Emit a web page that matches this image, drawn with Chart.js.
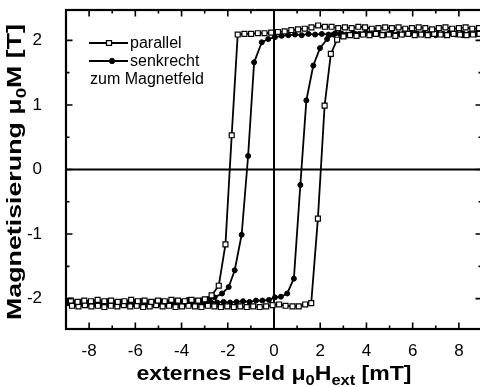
<!DOCTYPE html>
<html>
<head>
<meta charset="utf-8">
<script src="https://cdn.jsdelivr.net/npm/chart.js@4/dist/chart.umd.min.js"></script>
<style>
  html, body { margin: 0; padding: 0; background: #fff; overflow: hidden; }
  #wrap { width: 484px; height: 387px; }
</style>
</head>
<body>
<div id="wrap"><canvas id="loopChart" width="484" height="387"></canvas></div>
<script>
// parallel to the field, sweep from +9 down to -9 mT
const fieldParDown = [8.87, 8.58, 8.29, 8.00, 7.71, 7.42, 7.13, 6.84, 6.55, 6.26, 5.97, 5.68, 5.39, 5.10, 4.81, 4.52, 4.23, 3.94, 3.65, 3.36, 3.07, 2.78, 2.49, 2.20, 1.91, 1.62, 1.33, 1.04, 0.75, 0.46, 0.17, -0.12, -0.41, -0.70, -0.99, -1.28, -1.57,
  -1.83, -2.10, -2.39, -2.70,
  -2.99, -3.28, -3.57, -3.86, -4.15, -4.44, -4.73, -5.02, -5.31, -5.60, -5.89, -6.18, -6.47, -6.76, -7.05, -7.34, -7.63, -7.92, -8.21, -8.50, -8.79];
const magParDown = [2.19, 2.18, 2.20, 2.19, 2.18, 2.20, 2.19, 2.17, 2.19, 2.20, 2.19, 2.18, 2.20, 2.19, 2.20, 2.19, 2.18, 2.20, 2.21, 2.19, 2.20, 2.19, 2.21, 2.21, 2.23, 2.20, 2.18, 2.17, 2.16, 2.14, 2.13, 2.12, 2.11, 2.11, 2.10, 2.10, 2.09,
  0.53, -1.16, -1.80, -1.95,
  -2.01, -2.03, -2.02, -2.04, -2.03, -2.02, -2.04, -2.03, -2.05, -2.03, -2.04, -2.02, -2.04, -2.05, -2.03, -2.04, -2.02, -2.04, -2.03, -2.05, -2.03];

// parallel, sweep from -9 up to +9 mT
const fieldParUp = [-8.74, -8.46, -8.18, -7.90, -7.62, -7.34, -7.06, -6.78, -6.50, -6.22, -5.94, -5.66, -5.38, -5.10, -4.82, -4.54, -4.26, -3.98, -3.70, -3.42, -3.14, -2.86, -2.58, -2.30, -2.02, -1.74, -1.46, -1.18, -0.90, -0.62, -0.34, -0.06,
  0.22, 0.50, 0.80, 1.07, 1.35, 1.61,
  1.90, 2.19, 2.46, 2.73,
  3.01, 3.29, 3.57, 3.85, 4.13, 4.41, 4.69, 4.97, 5.25, 5.53, 5.81, 6.09, 6.37, 6.65, 6.93, 7.21, 7.49, 7.77, 8.05, 8.33, 8.61, 8.89];
const magParUp = [-2.11, -2.12, -2.10, -2.12, -2.11, -2.13, -2.11, -2.12, -2.10, -2.12, -2.11, -2.13, -2.12, -2.10, -2.12, -2.11, -2.13, -2.12, -2.11, -2.12, -2.13, -2.11, -2.12, -2.13, -2.12, -2.13, -2.12, -2.13, -2.12, -2.13, -2.12, -2.10,
  -2.09, -2.11, -2.12, -2.12, -2.09, -2.07,
  -0.76, 0.99, 1.79, 2.01,
  2.06, 2.08, 2.07, 2.09, 2.08, 2.10, 2.08, 2.09, 2.07, 2.09, 2.10, 2.08, 2.09, 2.08, 2.10, 2.09, 2.08, 2.10, 2.09, 2.08, 2.09, 2.10];

// perpendicular to the field, sweep down
const fieldPerpDown = [8.74, 8.45, 8.16, 7.87, 7.58, 7.29, 7.00, 6.71, 6.42, 6.13, 5.84, 5.55, 5.26, 4.97, 4.68, 4.39, 4.10, 3.81, 3.52, 3.23, 2.94, 2.65, 2.36, 2.07, 1.78, 1.49, 1.20, 0.91, 0.62, 0.33, 0.04,
  -0.25, -0.53, -0.86, -1.12, -1.40, -1.70, -1.96, -2.25, -2.57,
  -2.86, -3.15, -3.44, -3.73, -4.02, -4.31, -4.60, -4.89, -5.18, -5.47, -5.76, -6.05, -6.34, -6.63, -6.92, -7.21, -7.50, -7.79, -8.08, -8.37, -8.66, -8.95];
const magPerpDown = [2.09, 2.10, 2.08, 2.09, 2.11, 2.09, 2.08, 2.10, 2.09, 2.11, 2.10, 2.09, 2.08, 2.10, 2.09, 2.11, 2.10, 2.09, 2.10, 2.08, 2.10, 2.11, 2.09, 2.10, 2.09, 2.10, 2.08, 2.09, 2.08, 2.07, 2.05,
  2.02, 1.97, 1.66, 0.21, -1.01, -1.56, -1.82, -1.92, -1.98,
  -2.01, -2.03, -2.04, -2.02, -2.05, -2.04, -2.06, -2.04, -2.05, -2.06, -2.04, -2.05, -2.07, -2.05, -2.06, -2.04, -2.06, -2.05, -2.07, -2.05, -2.06, -2.05];

// perpendicular, sweep up
const fieldPerpUp = [-8.90, -8.62, -8.34, -8.06, -7.78, -7.50, -7.22, -6.94, -6.66, -6.38, -6.10, -5.82, -5.54, -5.26, -4.98, -4.70, -4.42, -4.14, -3.86, -3.58, -3.30, -3.02, -2.74, -2.46, -2.18, -1.90, -1.62, -1.34, -1.06, -0.78, -0.50,
  -0.22, 0.04, 0.30, 0.57, 0.86,
  1.14, 1.40, 1.70, 1.99, 2.30, 2.57,
  2.85, 3.13, 3.41, 3.69, 3.97, 4.25, 4.53, 4.81, 5.09, 5.37, 5.65, 5.93, 6.21, 6.49, 6.77, 7.05, 7.33, 7.61, 7.89, 8.17, 8.45, 8.73];
const magPerpUp = [-2.07, -2.08, -2.06, -2.08, -2.07, -2.09, -2.07, -2.08, -2.06, -2.08, -2.07, -2.09, -2.08, -2.06, -2.08, -2.07, -2.08, -2.06, -2.07, -2.08, -2.06, -2.07, -2.05, -2.06, -2.05, -2.06, -2.05, -2.04, -2.05, -2.03, -2.03,
  -2.02, -1.98, -1.97, -1.92, -1.69,
  -0.24, 1.07, 1.61, 1.88, 2.02, 2.09,
  2.10, 2.09, 2.11, 2.10, 2.12, 2.10, 2.11, 2.09, 2.11, 2.10, 2.12, 2.11, 2.10, 2.11, 2.09, 2.11, 2.10, 2.12, 2.10, 2.11, 2.10, 2.11];

const xTickLabels = [-8, -6, -4, -2, 0, 2, 4, 6, 8];
const xMinorTicks = [-9, -7, -5, -3, -1, 1, 3, 5, 7, 9];
const yTickLabels = [-2, -1, 0, 1, 2];
const yMinorTicks = [-1.5, -0.5, 0.5, 1.5];

const legendLabels = ['parallel', 'senkrecht', 'zum Magnetfeld'];

const FONT = '"Liberation Sans", Arial, Helvetica, sans-serif';

const toPoints = (xs, ys) => xs.map((v, i) => ({ x: v, y: ys[i] }));

const squareStyle = {
  borderColor: '#000', borderWidth: 1.8, tension: 0,
  pointStyle: 'rect', pointRadius: 3.5, pointBorderWidth: 1.2,
  pointBackgroundColor: '#fff', pointBorderColor: '#000'
};
const dotStyle = {
  borderColor: '#000', borderWidth: 1.8, tension: 0,
  pointStyle: 'circle', pointRadius: 2.5, pointBorderWidth: 1,
  pointBackgroundColor: '#000', pointBorderColor: '#000'
};

// draws a line of text with sub-scripted parts, stretched to a given length
function richText(ctx, parts, size, target) {
  let w = 0;
  parts.forEach(p => {
    ctx.font = `bold ${p.sub ? Math.round(size * 0.72) : size}px ${FONT}`;
    p.w = ctx.measureText(p.t).width;
    w += p.w;
  });
  ctx.scale(target / w, 1);
  let cx = -w / 2;
  ctx.textBaseline = 'alphabetic';
  ctx.textAlign = 'left';
  parts.forEach(p => {
    ctx.font = `bold ${p.sub ? Math.round(size * 0.72) : size}px ${FONT}`;
    ctx.fillText(p.t, cx, p.sub ? size * 0.26 : 0);
    cx += p.w;
  });
}

const framePlugin = {
  id: 'frame',
  beforeDatasetsDraw(chart) {
    const { ctx, chartArea: a, scales: { x, y } } = chart;
    const x0 = x.getPixelForValue(0), y0 = y.getPixelForValue(0);
    ctx.save();
    ctx.strokeStyle = '#000';
    ctx.lineWidth = 2;
    ctx.beginPath();
    ctx.moveTo(x0, a.top); ctx.lineTo(x0, a.bottom);
    ctx.moveTo(a.left, y0); ctx.lineTo(a.right, y0);
    ctx.stroke();
    ctx.restore();
  },
  afterDraw(chart) {
    const { ctx, chartArea: a, scales: { x, y } } = chart;
    ctx.save();
    ctx.strokeStyle = '#000';
    ctx.fillStyle = '#000';

    // frame
    ctx.lineWidth = 2.2;
    ctx.strokeRect(a.left, a.top, a.right - a.left, a.bottom - a.top);

    // inward ticks on all four sides
    ctx.lineWidth = 1.6;
    ctx.beginPath();
    const xt = (v, len) => {
      const px = x.getPixelForValue(v);
      ctx.moveTo(px, a.bottom); ctx.lineTo(px, a.bottom - len);
      ctx.moveTo(px, a.top); ctx.lineTo(px, a.top + len);
    };
    const yt = (v, len) => {
      const py = y.getPixelForValue(v);
      ctx.moveTo(a.left, py); ctx.lineTo(a.left + len, py);
      ctx.moveTo(a.right, py); ctx.lineTo(a.right - len, py);
    };
    xTickLabels.forEach(v => xt(v, 6.5));
    xMinorTicks.forEach(v => xt(v, 3.5));
    yTickLabels.forEach(v => yt(v, 6.5));
    yMinorTicks.forEach(v => yt(v, 3.5));
    ctx.stroke();

    // legend
    const ds = chart.data.datasets;
    ctx.font = `16px ${FONT}`;
    ctx.textBaseline = 'middle';
    ctx.textAlign = 'left';
    [[43, 109, ds[0]], [61, 112, ds[2]]].forEach(([ly, mx, d], i) => {
      ctx.lineWidth = 1.8;
      ctx.beginPath();
      ctx.moveTo(89, ly); ctx.lineTo(128, ly);
      ctx.stroke();
      ctx.lineWidth = d.pointBorderWidth;
      ctx.fillStyle = d.pointBackgroundColor;
      Chart.helpers.drawPoint(ctx, { pointStyle: d.pointStyle, radius: d.pointRadius, borderWidth: d.pointBorderWidth }, mx, ly);
      ctx.fill();
      ctx.stroke();
      ctx.fillStyle = '#000';
      ctx.fillText(legendLabels[i], 130, ly + 1);
    });
    ctx.fillText(legendLabels[2], 90, 80);

    // axis titles
    ctx.save();
    ctx.translate((a.left + a.right) / 2, 380);
    richText(ctx, [
      { t: 'externes Feld \u03BC' }, { t: '0', sub: true }, { t: 'H' },
      { t: 'ext', sub: true }, { t: ' [mT]' }
    ], 21, 275);
    ctx.restore();

    ctx.save();
    ctx.translate(21, 172);
    ctx.rotate(-Math.PI / 2);
    richText(ctx, [
      { t: 'Magnetisierung \u03BC' }, { t: '0', sub: true }, { t: 'M [T]' }
    ], 20, 296);
    ctx.restore();

    ctx.restore();
  }
};

// fixed box sizes so the plot area lands where the scan has it
const fixX = s => { s.height = 58; s.paddingLeft = 0; s.paddingRight = 0; };
const fixY = s => { s.width = 66; s.paddingTop = 0; s.paddingBottom = 0; };

const ctx = document.getElementById('loopChart').getContext('2d');
const chart = new Chart(ctx, {
  type: 'line',
  data: {
    datasets: [
      { label: 'parallel', data: toPoints(fieldParDown, magParDown), ...squareStyle },
      { label: 'parallel', data: toPoints(fieldParUp, magParUp), ...squareStyle },
      { label: 'senkrecht', data: toPoints(fieldPerpDown, magPerpDown), ...dotStyle },
      { label: 'senkrecht', data: toPoints(fieldPerpUp, magPerpUp), ...dotStyle }
    ]
  },
  options: {
    responsive: false,
    animation: false,
    devicePixelRatio: 1,
    layout: { autoPadding: false, padding: { top: 10, right: 2, left: 0, bottom: 0 } },
    plugins: {
      legend: { display: false },
      tooltip: { enabled: false }
    },
    scales: {
      x: {
        type: 'linear',
        min: -9,
        max: 9,
        afterBuildTicks: s => { s.ticks = xTickLabels.map(v => ({ value: v })); },
        afterFit: fixX,
        grid: { display: false },
        border: { display: false },
        ticks: {
          color: '#000',
          padding: 4,
          maxRotation: 0,
          autoSkip: false,
          font: { family: FONT, size: 17 },
          callback: v => String(v)
        }
      },
      y: {
        type: 'linear',
        min: -2.47,
        max: 2.47,
        afterBuildTicks: s => { s.ticks = yTickLabels.map(v => ({ value: v })); },
        afterFit: fixY,
        grid: { display: false },
        border: { display: false },
        ticks: {
          color: '#000',
          padding: 16,
          autoSkip: false,
          font: { family: FONT, size: 17 },
          callback: v => String(v)
        }
      }
    }
  },
  plugins: [framePlugin]
});
</script>
</body>
</html>
